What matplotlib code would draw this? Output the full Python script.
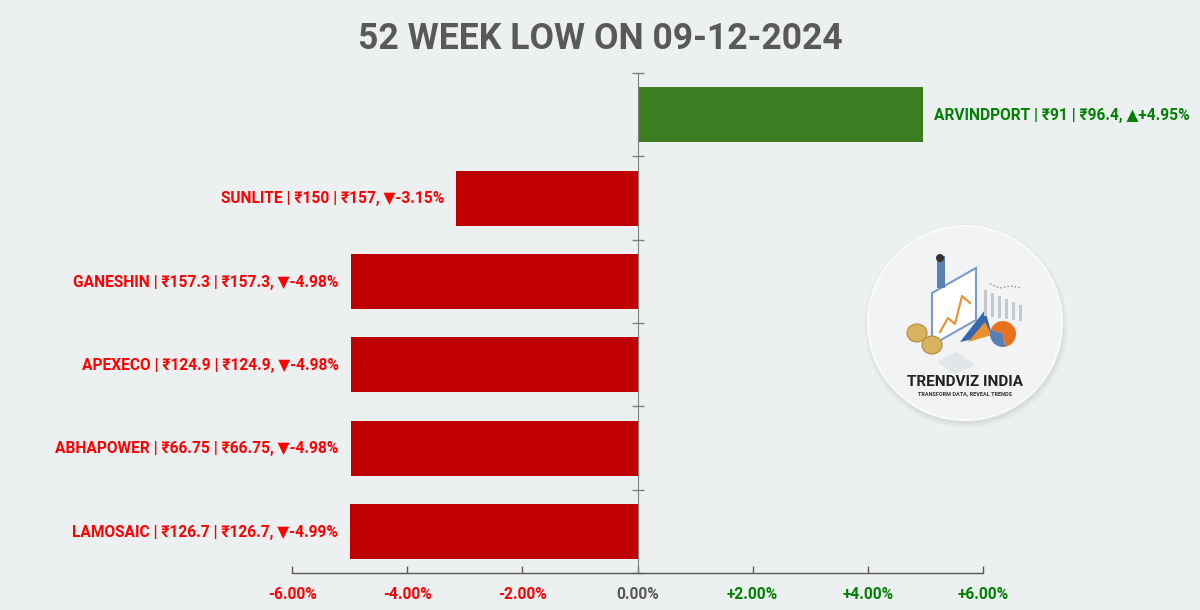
import matplotlib
matplotlib.use('Agg')
import matplotlib.pyplot as plt
from matplotlib import patches

symbols = ['ARVINDPORT', 'SUNLITE', 'GANESHIN', 'APEXECO', 'ABHAPOWER', 'LAMOSAIC']
low_price = ['91', '150', '157.3', '124.9', '66.75', '126.7']
close_price = ['96.4', '157', '157.3', '124.9', '66.75', '126.7']
pct_change = [4.95, -3.15, -4.98, -4.98, -4.98, -4.99]
x_ticks = [-6, -4, -2, 0, 2, 4, 6]
x_labels = ['-6.00%', '-4.00%', '-2.00%', '0.00%', '+2.00%', '+4.00%', '+6.00%']

BG = '#ecf0f1'
plt.rcParams['font.family'] = ['Roboto', 'DejaVu Sans']

W, H = 1200, 610
fig = plt.figure(figsize=(W / 100, H / 100), dpi=100, facecolor=BG)

# plot area in pixels: x 292-983, y 73-573
ax = fig.add_axes([292 / W, 1 - 573 / H, 691 / W, 500 / H], facecolor='none')
pos = list(range(len(symbols)))
colors = ['#3c7d22' if v > 0 else '#c00000' for v in pct_change]
ax.barh(pos, pct_change, height=0.66, color=colors, zorder=2)
ax.set_xlim(-6, 6)
ax.set_ylim(len(symbols) - 0.5, -0.5)

for i, v in enumerate(pct_change):
    arrow = '▲' if v > 0 else '▼'
    sign = '+' if v > 0 else ''
    label = f'{symbols[i]} | ₹{low_price[i]} | ₹{close_price[i]}, {arrow}{sign}{v:.2f}%'
    if v > 0:
        ax.annotate(label, (v, i), xytext=(11, -1), textcoords='offset pixels', ha='left', va='center',
                    color='#008000', fontsize=11.2, fontweight='bold')
    else:
        ax.annotate(label, (v, i), xytext=(-12, -1), textcoords='offset pixels', ha='right', va='center',
                    color='#ff0000', fontsize=11.2, fontweight='bold')

for s in ['top', 'right']:
    ax.spines[s].set_visible(False)
ax.spines['left'].set_position(('data', 0))
ax.spines['left'].set_color('#7f7f7f')
ax.spines['bottom'].set_color('#595959')
ax.spines['bottom'].set_linewidth(1)
ax.set_yticks([i - 0.5 for i in range(len(symbols) + 1)])
ax.set_yticklabels([])
ax.tick_params(axis='y', direction='inout', length=9, color='#7f7f7f', width=1)
ax.set_xticks(x_ticks)
ax.set_xticklabels(x_labels, fontsize=11.2, fontweight='bold')
ax.tick_params(axis='x', direction='in', length=5, color='#595959', width=1, pad=10)
for t, v in zip(ax.get_xticklabels(), x_ticks):
    t.set_color('#ff0000' if v < 0 else '#008000' if v > 0 else '#595959')

fig.text(600 / W, 1 - 39 / H, '52 WEEK LOW ON 09-12-2024', ha='center', va='center',
         fontsize=25.6, fontweight='bold', color='#595959')

# logo, drawn in pixel coordinates
lg = fig.add_axes([0, 0, 1, 1], facecolor='none')
lg.set_xlim(0, W)
lg.set_ylim(H, 0)
lg.axis('off')
for r, a in [(102, 0.05), (100, 0.07), (98, 0.09)]:
    lg.add_patch(patches.Circle((966, 326), r, color='#8a9296', alpha=a, lw=0))
lg.add_patch(patches.Circle((965, 323), 97, color='#f1f3f4', ec='#fafafa', lw=1.5))
lg.add_patch(patches.Polygon([(932, 293), (976, 268), (976, 320), (932, 345)], fc='#ffffff', ec='#7f9ac9', lw=1.5))
lg.plot([940, 948, 955, 962, 970], [332, 318, 324, 296, 303], color='#e8912d', lw=1.5)
lg.add_patch(patches.Rectangle((937, 256), 8, 32, color='#5a7fb5', lw=0))
lg.add_patch(patches.Circle((940, 258), 4, color='#3b2f2f', lw=0))
lg.add_patch(patches.Polygon([(960, 342), (985, 310), (992, 335)], color='#3567ad', lw=0))
lg.add_patch(patches.Polygon([(968, 342), (985, 322), (992, 335)], color='#e8912d', lw=0))
lg.add_patch(patches.Wedge((1003, 334), 13, 200, 80, color='#e8701f', lw=0))
lg.add_patch(patches.Wedge((1003, 334), 13, 80, 200, color='#5a7fb5', lw=0))
for cx, cy in [(917, 333), (932, 345)]:
    lg.add_patch(patches.Ellipse((cx, cy), 20, 18, color='#d9b25f', ec='#b48a35', lw=0.8))
for i in range(6):
    lg.add_patch(patches.Rectangle((984 + i * 7, 290 + i * 3), 2.5, 26 - i * 2, color='#c3c8cc', lw=0))
lg.plot([990, 1000, 1010, 1022], [284, 288, 286, 288], color='#8a8f93', lw=1, ls=':')
lg.add_patch(patches.Polygon([(937, 362), (957, 352), (975, 365), (955, 374)], color='#e3e6e8', lw=0))
lg.text(965, 382, 'TRENDVIZ INDIA', ha='center', va='center', fontsize=11, fontweight='bold',
        color='#222222')
lg.text(965, 394, 'TRANSFORM DATA, REVEAL TRENDS', ha='center', va='center', fontsize=4, fontweight='bold',
        color='#333333')

fig.savefig('out.png', dpi=100, facecolor=BG)
